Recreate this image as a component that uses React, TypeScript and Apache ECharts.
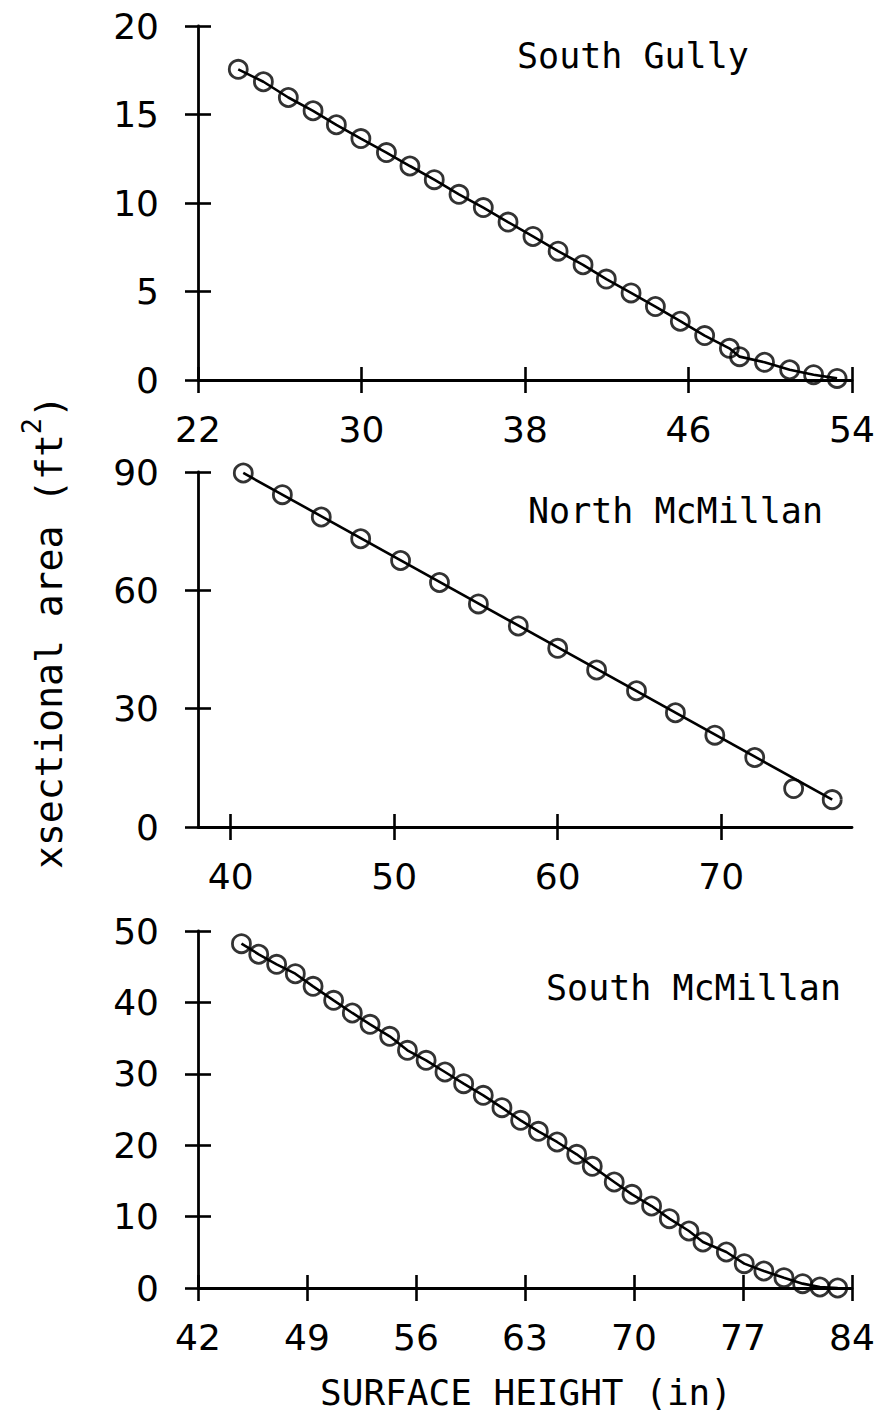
import React, { useEffect, useRef } from "react";
import * as echarts from "echarts";

// ---- Data: South Gully ----
const gullyX = [23.97, 25.2, 26.42, 27.63, 28.77, 29.97, 31.22, 32.37, 33.56, 34.77, 35.96, 37.17, 38.39, 39.62, 40.84, 41.98, 43.19, 44.38, 45.6, 46.79, 48.0, 48.5, 49.72, 50.95, 52.12, 53.27];
const gullyY = [17.55, 16.85, 15.96, 15.21, 14.42, 13.64, 12.85, 12.09, 11.32, 10.49, 9.74, 8.92, 8.11, 7.28, 6.51, 5.7, 4.92, 4.15, 3.32, 2.51, 1.79, 1.32, 1.0, 0.58, 0.3, 0.09];
const gullyXTicks = [22, 30, 38, 46, 54];
const gullyYTicks = [0, 5, 10, 15, 20];

// ---- Data: North McMillan ----
const northX = [40.77, 43.16, 45.54, 47.95, 50.39, 52.77, 55.15, 57.59, 60.0, 62.38, 64.82, 67.2, 69.61, 72.05, 74.43, 76.79];
const northY = [89.75, 84.25, 78.6, 73.07, 67.57, 61.98, 56.56, 50.97, 45.3, 39.8, 34.55, 28.96, 23.29, 17.61, 9.74, 6.94];
const northFitX = [40.77, 76.79];
const northFitY = [89.75, 6.94];
const northXTicks = [40, 50, 60, 70];
const northYTicks = [0, 30, 60, 90];

// ---- Data: South McMillan ----
const southX = [44.79, 45.9, 47.05, 48.25, 49.39, 50.71, 51.91, 53.05, 54.31, 55.45, 56.65, 57.86, 59.06, 60.32, 61.52, 62.72, 63.86, 65.06, 66.32, 67.32, 68.73, 69.87, 71.13, 72.27, 73.53, 74.43, 75.93, 77.08, 78.34, 79.63, 80.83, 81.94, 83.08];
const southY = [48.23, 46.74, 45.33, 44.02, 42.25, 40.29, 38.52, 36.93, 35.25, 33.29, 31.89, 30.25, 28.62, 26.98, 25.26, 23.48, 21.94, 20.45, 18.72, 17.04, 14.85, 13.12, 11.48, 9.71, 7.98, 6.44, 5.04, 3.41, 2.38, 1.45, 0.61, 0.14, 0.0];
const southXTicks = [42, 49, 56, 63, 70, 77, 84];
const southYTicks = [0, 10, 20, 30, 40, 50];

const panelTitles = ["South Gully", "North McMillan", "South McMillan"];
const xTitle = "SURFACE HEIGHT (in)";

const zip = (xs: number[], ys: number[]) => xs.map((x, i) => [x, ys[i]]);

const BLACK = "#000";
const NUM_FONT = "DejaVu Sans";
const TXT_FONT = "DejaVu Sans Mono";

function xAxes(gi: number, min: number, max: number, ticks: number[]) {
  const tickLine = { color: BLACK, width: 2.6 };
  return [
    {
      type: "value", gridIndex: gi, min, max, position: "bottom",
      axisLine: { show: true, onZero: false, lineStyle: { color: BLACK, width: 2.8 } },
      axisTick: { show: true, inside: false, length: 13, customValues: ticks, lineStyle: tickLine },
      axisLabel: { show: true, customValues: ticks, margin: 31, fontSize: 36, fontFamily: NUM_FONT, color: BLACK },
      splitLine: { show: false },
    },
    {
      type: "value", gridIndex: gi, min, max, position: "bottom", offset: 0,
      axisLine: { show: false, onZero: false },
      axisTick: { show: true, inside: true, length: 13, customValues: ticks, lineStyle: tickLine },
      axisLabel: { show: false },
      splitLine: { show: false },
    },
  ];
}

function yAxes(gi: number, min: number, max: number, ticks: number[]) {
  const tickLine = { color: BLACK, width: 2.6 };
  return [
    {
      type: "value", gridIndex: gi, min, max, position: "left",
      axisLine: { show: true, onZero: false, lineStyle: { color: BLACK, width: 2.8 } },
      axisTick: { show: true, inside: false, length: 13, customValues: ticks, lineStyle: tickLine },
      axisLabel: { show: true, customValues: ticks, margin: 39, fontSize: 36, fontFamily: NUM_FONT, color: BLACK },
      splitLine: { show: false },
    },
    {
      type: "value", gridIndex: gi, min, max, position: "left", offset: 0,
      axisLine: { show: false, onZero: false },
      axisTick: { show: true, inside: true, length: 13, customValues: ticks, lineStyle: tickLine },
      axisLabel: { show: false },
      splitLine: { show: false },
    },
  ];
}

function lineSeries(axisIdx: number, data: number[][]) {
  return {
    type: "line", xAxisIndex: axisIdx, yAxisIndex: axisIdx, data,
    symbol: "none", silent: true,
    lineStyle: { color: BLACK, width: 2.6 },
  };
}

function circleSeries(axisIdx: number, data: number[][]) {
  return {
    type: "scatter", xAxisIndex: axisIdx, yAxisIndex: axisIdx, data,
    symbol: "circle", symbolSize: 18, silent: true,
    itemStyle: { color: "rgba(0,0,0,0)", borderColor: BLACK, borderWidth: 2.8 },
  };
}

export default function App() {
  const ref = useRef<HTMLDivElement>(null);
  useEffect(() => {
    if (!ref.current) return;
    const chart = echarts.init(ref.current, undefined, { renderer: "svg" });
    const option: any = {
      animation: false,
      backgroundColor: "#fff",
      grid: [
        { left: 198, top: 26, width: 654, height: 354 },
        { left: 198, top: 472, width: 654, height: 355 },
        { left: 198, top: 931, width: 654, height: 357 },
      ],
      xAxis: [
        ...xAxes(0, 22, 54, gullyXTicks),
        ...xAxes(1, 38, 78, northXTicks),
        ...xAxes(2, 42, 84, southXTicks),
      ],
      yAxis: [
        ...yAxes(0, 0, 20, gullyYTicks),
        ...yAxes(1, 0, 90, northYTicks),
        ...yAxes(2, 0, 50, southYTicks),
      ],
      series: [
        lineSeries(0, zip(gullyX, gullyY)),
        circleSeries(0, zip(gullyX, gullyY)),
        lineSeries(2, zip(northFitX, northFitY)),
        circleSeries(2, zip(northX, northY)),
        lineSeries(4, zip(southX, southY)),
        circleSeries(4, zip(southX, southY)),
      ],
      graphic: [
        {
          type: "text", x: 517, y: 56,
          style: { text: panelTitles[0], fontSize: 35, fontFamily: TXT_FONT, fill: BLACK, align: "left", verticalAlign: "middle" },
        },
        {
          type: "text", x: 528, y: 511,
          style: { text: panelTitles[1], fontSize: 35, fontFamily: TXT_FONT, fill: BLACK, align: "left", verticalAlign: "middle" },
        },
        {
          type: "text", x: 546, y: 988,
          style: { text: panelTitles[2], fontSize: 35, fontFamily: TXT_FONT, fill: BLACK, align: "left", verticalAlign: "middle" },
        },
        {
          type: "text", x: 526, y: 1392,
          style: { text: xTitle, fontSize: 36, fontFamily: TXT_FONT, fill: BLACK, align: "center", verticalAlign: "middle" },
        },
        {
          type: "text", x: 49, y: 632, rotation: Math.PI / 2,
          style: {
            text: "xsectional area (ft{sup|2})",
            fontSize: 38, fontFamily: TXT_FONT, fill: BLACK, align: "center", verticalAlign: "middle",
            lineHeight: 62,
            rich: {
              sup: { fontSize: 27, fontFamily: TXT_FONT, fill: BLACK, verticalAlign: "top", lineHeight: 27 },
            },
          },
        },
      ],
    };
    chart.setOption(option);
    return () => chart.dispose();
  }, []);
  return (
    <div
      ref={ref}
      style={{ position: "absolute", left: 0, top: 0, width: 882, height: 1415, background: "#fff" }}
    />
  );
}
